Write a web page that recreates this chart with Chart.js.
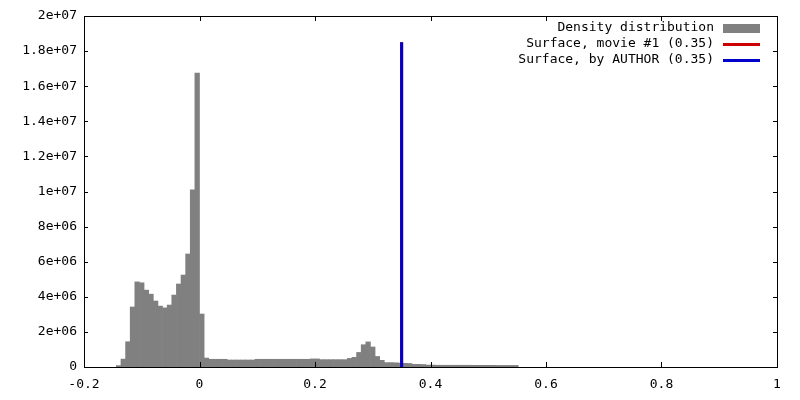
<!DOCTYPE html>
<html>
<head>
<meta charset="utf-8">
<script src="https://cdn.jsdelivr.net/npm/chart.js@4.4.1/dist/chart.umd.min.js"></script>
<style>
  body { margin: 0; background: #fff; }
  #wrap { width: 800px; height: 400px; }
</style>
</head>
<body>
<div id="wrap"><canvas id="hist"></canvas></div>
<script>
// histogram bin centres (bin width 0.008)
var binCenters = [
  -0.140, -0.132, -0.124, -0.116, -0.108, -0.100, -0.092, -0.084, -0.076, -0.068,
  -0.060, -0.052, -0.044, -0.036, -0.028, -0.020, -0.012, -0.004, 0.004, 0.012,
  0.020, 0.028, 0.036, 0.044, 0.052, 0.060, 0.068, 0.076, 0.084, 0.092,
  0.100, 0.108, 0.116, 0.124, 0.132, 0.140, 0.148, 0.156, 0.164, 0.172,
  0.180, 0.188, 0.196, 0.204, 0.212, 0.220, 0.228, 0.236, 0.244, 0.252,
  0.260, 0.268, 0.276, 0.284, 0.292, 0.300, 0.308, 0.316, 0.324, 0.332,
  0.340, 0.348, 0.356, 0.364, 0.372, 0.380, 0.388, 0.396, 0.404, 0.412,
  0.420, 0.428, 0.436, 0.444, 0.452, 0.460, 0.468, 0.476, 0.484, 0.492,
  0.500, 0.508, 0.516, 0.524, 0.532, 0.540, 0.548
];

var density = [
  8e4, 4.5e5, 1.44e6, 3.42e6, 4.85e6, 4.8e6, 4.38e6, 4.15e6, 3.76e6, 3.47e6,
  3.37e6, 3.53e6, 4.1e6, 4.73e6, 5.24e6, 6.44e6, 1.01e7, 1.675e7, 3.02e6, 5.1e5,
  4.4e5, 4.4e5, 4.4e5, 4.4e5, 4.0e5, 4.0e5, 4.0e5, 4.0e5, 4.0e5, 4.0e5,
  4.4e5, 4.4e5, 4.4e5, 4.4e5, 4.4e5, 4.4e5, 4.4e5, 4.4e5, 4.4e5, 4.4e5,
  4.4e5, 4.4e5, 4.6e5, 4.6e5, 4.2e5, 4.2e5, 4.2e5, 4.2e5, 4.2e5, 4.2e5,
  4.9e5, 5.5e5, 8.3e5, 1.27e6, 1.43e6, 1.14e6, 6.0e5, 3.8e5, 2.5e5, 2.5e5,
  2.4e5, 2.2e5, 2.1e5, 2.0e5, 1.5e5, 1.5e5, 1.4e5, 1.1e5, 1.1e5, 1.0e5,
  1.0e5, 1.0e5, 1.0e5, 1.0e5, 1.0e5, 1.0e5, 1.0e5, 9.5e4, 9.5e4, 9.5e4,
  9.5e4, 9.5e4, 9e4, 9e4, 9e4, 9e4, 9e4
];

// surface position lines
var movieLineX = [0.35, 0.35];
var movieLineY = [0, 1.85e7];
var authorLineX = [0.35, 0.35];
var authorLineY = [0, 1.85e7];

var seriesLabels = ["Density distribution", "Surface, movie #1 (0.35)", "Surface, by AUTHOR (0.35)"];

var FONT = "'DejaVu Sans Mono', monospace";

function pts(xs, ys) {
  var out = [];
  for (var i = 0; i < xs.length; i++) out.push({ x: xs[i], y: ys[i] });
  return out;
}

function expLabel(v) {
  if (v === 0) return "0";
  var s = v.toExponential();          // e.g. 1.8e+7
  var parts = s.split("e");
  var sign = parts[1].charAt(0);
  var num = parts[1].slice(1);
  if (num.length < 2) num = "0" + num;
  return parts[0] + "e" + sign + num;
}

// border box + inward ticks like gnuplot
var frame = {
  id: "frame",
  afterDatasetsDraw: function(chart) {
    var ctx = chart.ctx, a = chart.chartArea;
    var xs = chart.scales.x, ys = chart.scales.y;
    ctx.save();
    ctx.strokeStyle = "#000";
    ctx.lineWidth = 1;
    ctx.beginPath();
    xs.ticks.forEach(function(t) {
      var px = Math.round(xs.getPixelForValue(t.value)) + 0.5;
      ctx.moveTo(px, a.bottom); ctx.lineTo(px, a.bottom - 5);
      ctx.moveTo(px, a.top); ctx.lineTo(px, a.top + 5);
    });
    ys.ticks.forEach(function(t) {
      var py = Math.round(ys.getPixelForValue(t.value)) + 0.5;
      ctx.moveTo(a.left, py); ctx.lineTo(a.left + 4, py);
      ctx.moveTo(a.right, py); ctx.lineTo(a.right - 4, py);
    });
    ctx.stroke();
    ctx.strokeRect(Math.round(a.left) + 0.5, Math.round(a.top) + 0.5,
                   Math.round(a.right - a.left), Math.round(a.bottom - a.top));

    // key, top right
    ctx.font = "13px " + FONT;
    ctx.textAlign = "right";
    ctx.textBaseline = "middle";
    chart.data.datasets.forEach(function(ds, i) {
      var y = a.top + 12 + i * 16;
      var sx = a.right - 54;
      ctx.fillStyle = "#000";
      ctx.fillText(ds.label, sx - 9, y);
      if (ds.type === "bar") {
        ctx.fillStyle = ds.backgroundColor;
        ctx.fillRect(sx, y - 4, 37, 9);
      } else {
        ctx.fillStyle = ds.borderColor;
        ctx.fillRect(sx, y - 1, 37, 3);
      }
    });
    ctx.restore();
  }
};

var ctx = document.getElementById("hist");

var chart = new Chart(ctx, {
  data: {
    datasets: [
      {
        type: "bar",
        label: seriesLabels[0],
        data: pts(binCenters, density),
        backgroundColor: "#808080",
        borderWidth: 0,
        barPercentage: 1.0,
        categoryPercentage: 1.0,
        order: 3
      },
      {
        type: "line",
        label: seriesLabels[1],
        data: pts(movieLineX, movieLineY),
        borderColor: "#cc0000",
        borderWidth: 3,
        pointRadius: 0,
        fill: false,
        order: 2
      },
      {
        type: "line",
        label: seriesLabels[2],
        data: pts(authorLineX, authorLineY),
        borderColor: "#0000cc",
        borderWidth: 3,
        pointRadius: 0,
        fill: false,
        order: 1
      }
    ]
  },
  options: {
    responsive: true,
    maintainAspectRatio: false,
    animation: false,
    layout: { padding: { left: 0, right: 23, top: 16, bottom: 0 } },
    plugins: {
      legend: { display: false },
      tooltip: { enabled: false }
    },
    scales: {
      x: {
        type: "linear",
        min: -0.2,
        max: 1,
        offset: false,
        grid: { display: false, offset: false },
        border: { display: false },
        ticks: {
          stepSize: 0.2,
          padding: 2,
          maxRotation: 0,
          color: "#000",
          font: { family: FONT, size: 13 },
          callback: function(v) { return String(Number(v.toFixed(1))); }
        },
        afterFit: function(s) { s.height = 33; }
      },
      y: {
        type: "linear",
        min: 0,
        max: 2e7,
        grid: { display: false, drawTicks: false },
        border: { display: false },
        ticks: {
          stepSize: 2e6,
          padding: 7,
          color: "#000",
          font: { family: FONT, size: 13 },
          callback: function(v) { return expLabel(v); }
        },
        afterFit: function(s) { s.width = 84; }
      }
    }
  },
  plugins: [frame]
});
</script>
</body>
</html>
